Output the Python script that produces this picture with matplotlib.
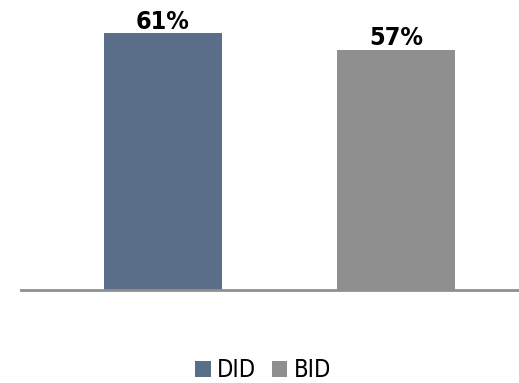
import matplotlib
matplotlib.use('Agg')
import matplotlib.pyplot as plt
from matplotlib.patches import Patch

categories = ['DID', 'BID']
values = [61, 57]
labels = ['61%', '57%']
colors = ['#5a6e8a', '#8f8f8f']

plt.rcParams['font.family'] = ['DejaVu Sans']
plt.rcParams['font.stretch'] = 'condensed'

W, H = 519, 383
fig = plt.figure(figsize=(W / 100, H / 100), dpi=100)
ax = fig.add_axes([21 / W, (H - 289.5) / H, (W - 21) / W, 289.5 / H])

x = list(range(len(categories)))
ax.bar(x, values, width=0.506, color=colors)
for xi, v, lab in zip(x, values, labels):
    ax.text(xi, v + 1.0, lab, ha='center', va='baseline', fontsize=18, fontweight='bold',
            fontstretch='condensed')

ax.set_xlim(-0.609, 1.528)
ax.set_ylim(0, 68.8)
for s in ['top', 'right', 'left']:
    ax.spines[s].set_visible(False)
ax.spines['bottom'].set_color('#8f8f8f')
ax.spines['bottom'].set_linewidth(2)
ax.set_xticks([])
ax.set_yticks([])

handles = [Patch(facecolor=c, edgecolor='none') for c in colors]
fig.legend(handles, categories, loc='center', bbox_to_anchor=(263 / W, 1 - 370 / H),
           ncol=2, frameon=False, prop={'size': 17, 'stretch': 'condensed'},
           handlelength=0.65, handleheight=0.65, handletextpad=0.25, columnspacing=0.7)

fig.savefig('out.png', dpi=100)
